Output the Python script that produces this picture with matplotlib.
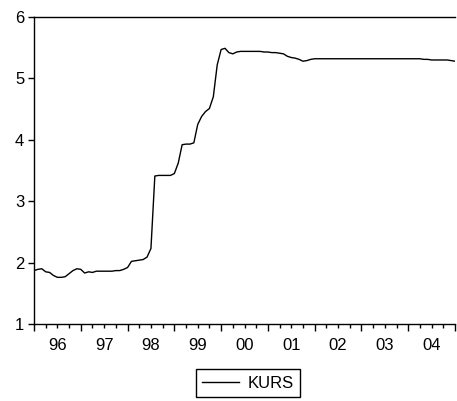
import numpy as np
import matplotlib
matplotlib.use("Agg")
from matplotlib import pyplot as plt

plt.rcParams['font.family'] = ['Liberation Sans', 'DejaVu Sans']

# monthly KURS, Jan 1996 .. Jan 2005
kurs = [1.87, 1.89, 1.90, 1.85, 1.84, 1.79, 1.76, 1.76, 1.77, 1.82, 1.87, 1.90,
        1.89, 1.83, 1.85, 1.84, 1.86, 1.86, 1.86, 1.86, 1.86, 1.87, 1.87, 1.89,
        1.92, 2.02, 2.03, 2.04, 2.05, 2.09, 2.23, 3.41, 3.42, 3.42, 3.42, 3.42,
        3.45, 3.62, 3.92, 3.93, 3.93, 3.95, 4.25, 4.38, 4.46, 4.51, 4.70, 5.22,
        5.47, 5.49, 5.42, 5.40, 5.43, 5.44, 5.44, 5.44, 5.44, 5.44, 5.44, 5.43,
        5.43, 5.42, 5.42, 5.41, 5.40, 5.36, 5.34, 5.33, 5.31, 5.28, 5.29, 5.31,
        5.32, 5.32, 5.32, 5.32, 5.32, 5.32, 5.32, 5.32, 5.32, 5.32, 5.32, 5.32,
        5.32, 5.32, 5.32, 5.32, 5.32, 5.32, 5.32, 5.32, 5.32, 5.32, 5.32, 5.32,
        5.32, 5.32, 5.32, 5.32, 5.31, 5.31, 5.30, 5.30, 5.30, 5.30, 5.30, 5.29,
        5.28]
start_year = 1996
years = ['96', '97', '98', '99', '00', '01', '02', '03', '04']
yticks = [1, 2, 3, 4, 5, 6]

t = start_year + np.arange(len(kurs)) / 12.0

fig = plt.figure(figsize=(4.57, 4.01), dpi=100)
ax = fig.add_axes([34 / 457, 77 / 401, 421 / 457, 307 / 401])
ax.plot(t, kurs, color='black', lw=1.0, label='KURS')

ax.set_xlim(start_year, start_year + len(years))
ax.set_ylim(1, 6)
ax.set_yticks(yticks)
ax.set_xticks(np.arange(start_year, start_year + len(years) + 1))
ax.set_xticks(np.arange(start_year, start_year + len(years), 0.25), minor=True)
ax.set_xticklabels([])
ax.tick_params(axis='x', which='major', length=5, width=1, direction='out')
ax.tick_params(axis='x', which='minor', length=3, width=1, direction='out')
ax.tick_params(axis='y', length=4, width=1, direction='out', labelsize=12, pad=3)
ax.spines['right'].set_visible(False)
for s in ['left', 'top', 'bottom']:
    ax.spines[s].set_linewidth(1.0)

for i, y in enumerate(years):
    ax.text(start_year + i + 0.5, -0.045, y, transform=ax.get_xaxis_transform(),
            ha='center', va='top', fontsize=12)

fig.legend(loc='center', bbox_to_anchor=(248 / 457, 1 - 383 / 401), fontsize=12,
           fancybox=False, edgecolor='black', framealpha=1, handlelength=2.2,
           borderpad=0.4, handletextpad=0.5)

fig.savefig('out.png', dpi=100)
